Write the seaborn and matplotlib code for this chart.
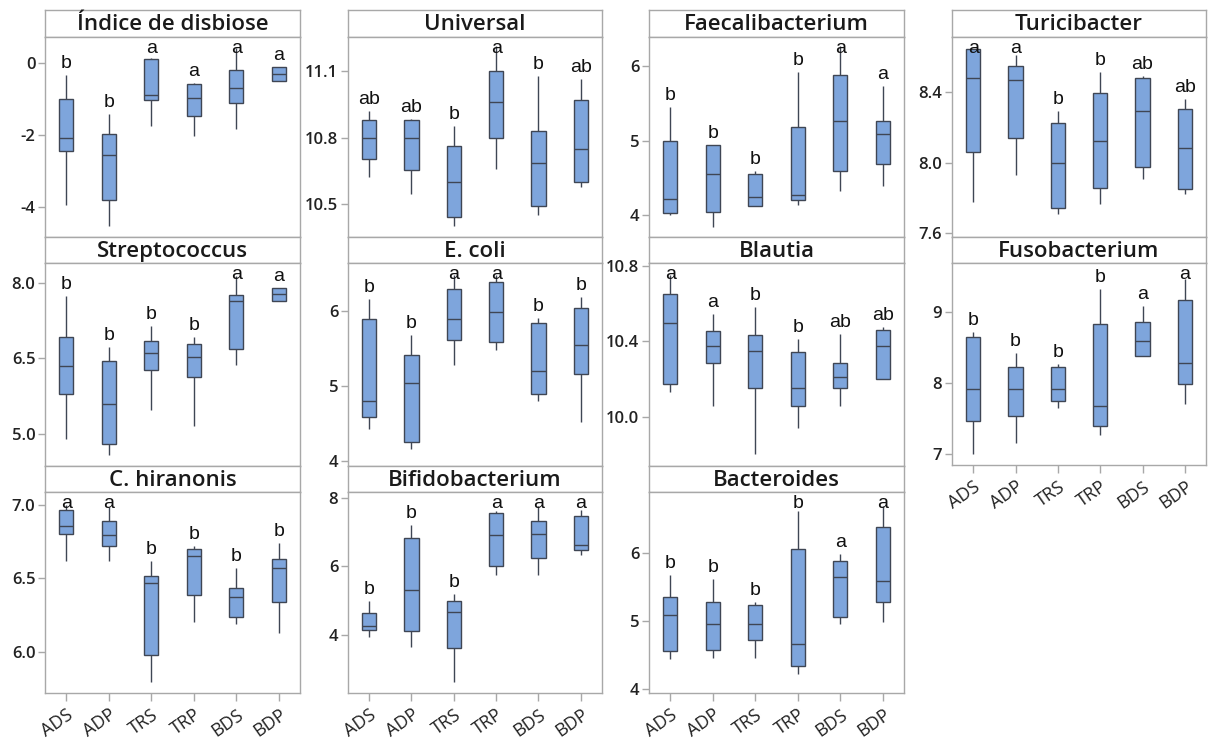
import numpy as np
import pandas as pd
import seaborn as sns
import matplotlib
matplotlib.use("Agg")
from matplotlib import pyplot as plt
from matplotlib.ticker import FormatStrFormatter

# ---------------------------------------------------------------------------
# Data: five-number summaries
# order in each row: whisker low, Q1, median, Q3, whisker high
groups = ["ADS", "ADP", "TRS", "TRP", "BDS", "BDP"]

disbiose = [[-3.94, -2.46, -2.09, -0.99, -0.35],
            [-4.53, -3.81, -2.57, -1.97, -1.42],
            [-1.76, -1.02, -0.89, 0.11, 0.13],
            [-2.04, -1.49, -0.98, -0.59, -0.56],
            [-1.84, -1.12, -0.69, -0.21, 0.42],
            [-0.49, -0.49, -0.32, -0.12, -0.12]]
disbiose_letters = ["b", "b", "a", "a", "a", "a"]

universal = [[10.624, 10.703, 10.799, 10.878, 10.923],
             [10.544, 10.654, 10.800, 10.878, 10.885],
             [10.400, 10.441, 10.600, 10.763, 10.854],
             [10.657, 10.798, 10.961, 11.103, 11.213],
             [10.450, 10.490, 10.684, 10.829, 11.080],
             [10.576, 10.598, 10.748, 10.970, 11.065]]
universal_letters = ["ab", "ab", "b", "a", "b", "ab"]

faecali = [[4.00, 4.03, 4.22, 5.00, 5.46],
           [3.85, 4.04, 4.56, 4.95, 4.95],
           [4.12, 4.12, 4.25, 4.55, 4.60],
           [4.14, 4.21, 4.27, 5.19, 5.93],
           [4.33, 4.59, 5.27, 5.89, 6.27],
           [4.39, 4.69, 5.09, 5.27, 5.74]]
faecali_letters = ["b", "b", "b", "b", "a", "a"]

turici = [[7.780, 8.063, 8.479, 8.644, 8.644],
          [7.930, 8.139, 8.466, 8.549, 8.612],
          [7.710, 7.742, 8.000, 8.224, 8.290],
          [7.766, 7.855, 8.124, 8.394, 8.512],
          [7.906, 7.973, 8.294, 8.479, 8.493],
          [7.823, 7.850, 8.082, 8.304, 8.360]]
turici_letters = ["a", "a", "b", "b", "ab", "ab"]

strepto = [[4.89, 5.79, 6.35, 6.92, 7.74],
           [4.58, 4.79, 5.59, 6.45, 6.72],
           [5.47, 6.27, 6.61, 6.84, 7.14],
           [5.16, 6.12, 6.53, 6.78, 6.93],
           [6.37, 6.68, 7.64, 7.75, 8.14],
           [7.63, 7.63, 7.77, 7.89, 7.89]]
strepto_letters = ["b", "b", "b", "b", "a", "a"]

ecoli = [[4.43, 4.59, 4.80, 5.90, 6.16],
         [4.16, 4.26, 5.04, 5.42, 5.68],
         [5.29, 5.61, 5.90, 6.30, 6.48],
         [5.48, 5.59, 5.99, 6.39, 6.48],
         [4.80, 4.90, 5.21, 5.84, 5.91],
         [4.53, 5.17, 5.55, 6.04, 6.19]]
ecoli_letters = ["b", "b", "a", "a", "b", "b"]

blautia = [[10.130, 10.172, 10.500, 10.654, 10.756],
           [10.059, 10.288, 10.377, 10.457, 10.546],
           [9.800, 10.155, 10.347, 10.436, 10.583],
           [9.938, 10.057, 10.155, 10.345, 10.412],
           [10.059, 10.155, 10.213, 10.288, 10.439],
           [10.199, 10.199, 10.377, 10.462, 10.475]]
blautia_letters = ["a", "a", "b", "b", "ab", "ab"]

fuso = [[7.00, 7.47, 7.91, 8.65, 8.72],
        [7.15, 7.54, 7.91, 8.23, 8.42],
        [7.65, 7.75, 7.91, 8.23, 8.27],
        [7.27, 7.39, 7.68, 8.84, 9.33],
        [8.39, 8.39, 8.59, 8.86, 9.09],
        [7.71, 7.99, 8.28, 9.17, 9.48]]
fuso_letters = ["b", "b", "b", "b", "a", "a"]

chiran = [[6.620, 6.804, 6.854, 6.966, 7.000],
          [6.620, 6.718, 6.797, 6.890, 6.984],
          [5.800, 5.982, 6.466, 6.518, 6.620],
          [6.207, 6.387, 6.653, 6.700, 6.718],
          [6.189, 6.241, 6.376, 6.437, 6.568],
          [6.133, 6.338, 6.568, 6.631, 6.741]]
chiran_letters = ["a", "a", "b", "b", "b", "b"]

bifido = [[3.95, 4.13, 4.27, 4.65, 4.99],
          [3.64, 4.10, 5.31, 6.81, 7.20],
          [2.64, 3.61, 4.68, 4.99, 5.18],
          [5.74, 6.02, 6.92, 7.54, 7.61],
          [5.74, 6.25, 6.95, 7.32, 7.76],
          [6.32, 6.47, 6.63, 7.47, 7.63]]
bifido_letters = ["b", "b", "b", "a", "a", "a"]

bactero = [[4.44, 4.55, 5.08, 5.35, 5.68],
           [4.45, 4.57, 4.95, 5.27, 5.61],
           [4.45, 4.72, 4.95, 5.24, 5.27],
           [4.22, 4.33, 4.66, 6.05, 6.62],
           [4.95, 5.06, 5.64, 5.88, 5.98],
           [4.99, 5.27, 5.59, 6.38, 6.68]]
bactero_letters = ["b", "b", "b", "b", "a", "a"]

# ---------------------------------------------------------------------------
# Layout (pixels) and axis settings
W, H = 1208, 740
col_px = [(45, 300), (348, 602), (649, 904), (952, 1206)]
row_px = [(10, 37, 237), (237, 263, 466), (466, 492, 693)]

panels = [
    ("Índice de disbiose", disbiose, disbiose_letters, 0, 0, (-4.84, 0.72), [-4, -2, 0], "%d"),
    ("Universal", universal, universal_letters, 0, 1, (10.35, 11.256), [10.5, 10.8, 11.1], "%.1f"),
    ("Faecalibacterium", faecali, faecali_letters, 0, 2, (3.71, 6.395), [4, 5, 6], "%d"),
    ("Turicibacter", turici, turici_letters, 0, 3, (7.579, 8.712), [7.6, 8.0, 8.4], "%.1f"),
    ("Streptococcus", strepto, strepto_letters, 1, 0, (4.36, 8.39), [5.0, 6.5, 8.0], "%.1f"),
    ("E. coli", ecoli, ecoli_letters, 1, 1, (3.94, 6.64), [4, 5, 6], "%d"),
    ("Blautia", blautia, blautia_letters, 1, 2, (9.737, 10.818), [10.0, 10.4, 10.8], "%.1f"),
    ("Fusobacterium", fuso, fuso_letters, 1, 3, (6.84, 9.70), [7, 8, 9], "%d"),
    ("C. hiranonis", chiran, chiran_letters, 2, 0, (5.723, 7.086), [6.0, 6.5, 7.0], "%.1f"),
    ("Bifidobacterium", bifido, bifido_letters, 2, 1, (2.305, 8.165), [4, 6, 8], "%d"),
    ("Bacteroides", bactero, bactero_letters, 2, 2, (3.94, 6.893), [4, 5, 6], "%d"),
]

box_color = "#7ea5dc"
edge_color = "#3f4654"
frame_color = "#a8a8a8"

sns.set_style("white")
plt.rcParams["font.family"] = ["Open Sans", "DejaVu Sans"]
plt.rcParams["axes.unicode_minus"] = False

fig = plt.figure(figsize=(W / 100, H / 100), dpi=100)


def px_axes(left, right, top, bottom):
    return fig.add_axes([left / W, 1 - bottom / H, (right - left) / W, (bottom - top) / H])


for title, stats, letters, r, c, ylim, yticks, fmt in panels:
    left, right = col_px[c]
    top, strip_bottom, bottom = row_px[r]
    if c == 3 and r == 1:
        bottom = 465

    # title strip
    tax = px_axes(left, right, top, strip_bottom)
    tax.set_xticks([])
    tax.set_yticks([])
    tax.set_facecolor("white")
    for s in tax.spines.values():
        s.set_color(frame_color)
        s.set_linewidth(1.0)
    tax.text(0.5, 0.45, title, ha="center", va="center", fontsize=16,
             fontweight="semibold", color="#1a1a1a", transform=tax.transAxes)

    # box plot
    ax = px_axes(left, right, strip_bottom, bottom)
    df = pd.DataFrame({"group": np.repeat(groups, 5),
                       "value": np.concatenate(stats)})
    sns.boxplot(data=df, x="group", y="value", order=groups, whis=(0, 100),
                width=0.34, color=box_color, saturation=1, linecolor=edge_color,
                linewidth=1.0, showcaps=False, ax=ax)
    ax.set_xlim(-0.5, 5.5)
    ax.set_ylim(*ylim)
    ax.set_yticks(yticks)
    ax.yaxis.set_major_formatter(FormatStrFormatter(fmt))
    ax.set_xlabel("")
    ax.set_ylabel("")
    for s in ax.spines.values():
        s.set_color(frame_color)
        s.set_linewidth(1.0)
    ax.tick_params(axis="y", direction="out", length=5, width=1, color=frame_color,
                   labelsize=12, labelcolor="#222222", pad=2, left=True)
    for lab in ax.get_yticklabels():
        lab.set_fontweight("semibold")

    show_x = (r == 2) or (c == 3 and r == 1)
    if show_x:
        ax.tick_params(axis="x", direction="out", length=6, width=1, color=frame_color,
                       labelsize=13, labelcolor="#222222", pad=3, bottom=True)
        for lab in ax.get_xticklabels():
            lab.set_rotation(35)
            lab.set_ha("right")
            lab.set_rotation_mode("anchor")
    else:
        ax.tick_params(axis="x", bottom=False, labelbottom=False)

    # significance letters above the upper whisker, kept inside the plot area
    h_px = bottom - strip_bottom
    for i, (vals, let) in enumerate(zip(stats, letters)):
        frac = (max(vals) - ylim[0]) / (ylim[1] - ylim[0])
        y_frac = min(frac + 7 / h_px, 1 - 16 / h_px)
        ax.text(i, y_frac, let, ha="center", va="baseline", fontsize=14,
                color="#111111", family=["Liberation Sans", "DejaVu Sans"],
                transform=ax.get_xaxis_transform())

fig.savefig("out.png", dpi=100, facecolor="white")
